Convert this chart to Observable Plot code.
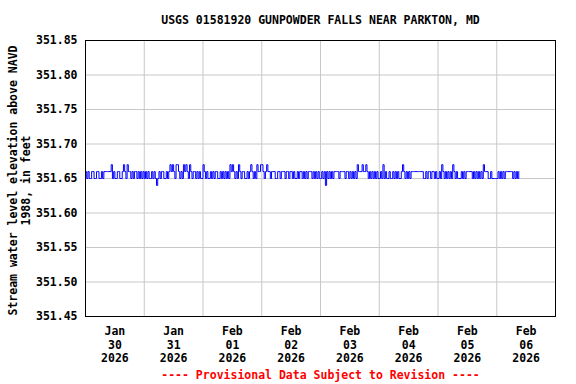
<!DOCTYPE html>
<html>
<head>
<meta charset="utf-8">
<script src="https://cdn.jsdelivr.net/npm/d3@7"></script>
<script src="https://cdn.jsdelivr.net/npm/@observablehq/plot@0.6"></script>
<style>
  html, body { margin: 0; padding: 0; background: #fff; }
</style>
</head>
<body>
<div id="chart"></div>
<script>
// ---- Data (30-minute readings, each digit d => 351.6d ft) ----
const dayStarts = ["2026-01-30", "2026-01-31", "2026-02-01", "2026-02-02", "2026-02-03", "2026-02-04", "2026-02-05", "2026-02-06"];
const dayReadings = [
  "6565566556655656" + "66666" + "7" + "565566556" + "7" + "65" + "7" + "6656566565656",
  "5656556565" + "4" + "5656655656" + "7" + "6" + "7" + "65" + "7" + "7" + "6565" + "7" + "6" + "7" + "65" + "7" + "6566565655",
  "7" + "656556565665565656565" + "7" + "6" + "7" + "6565" + "7" + "656655656" + "7" + "6565" + "7" + "66" + "7",
  "7" + "656" + "7" + "6656665566" + "5666566566" + "5655656656" + "5656665656" + "565",
  "5656" + "4" + "6565656" + "66656666566" + "5656565" + "7" + "666" + "7" + "66" + "7" + "6565656565",
  "565" + "7" + "565565565656556" + "7" + "6565656" + "666666666" + "556566566565",
  "565" + "7" + "65656565" + "7" + "6565556565" + "66666" + "565656565" + "7" + "6665565555",
  "5656565" + "666666" + "565656"
];

// ---- Axis ticks / labels ----
const yTicks = [351.45, 351.50, 351.55, 351.60, 351.65, 351.70, 351.75, 351.80, 351.85];
const xMonths = ["Jan", "Jan", "Feb", "Feb", "Feb", "Feb", "Feb", "Feb"];
const xDays = ["30", "31", "01", "02", "03", "04", "05", "06"];
const xYears = ["2026", "2026", "2026", "2026", "2026", "2026", "2026", "2026"];
const titleText = "USGS 01581920 GUNPOWDER FALLS NEAR PARKTON, MD";
const yLabel = "Stream water level elevation above NAVD\n1988, in feet";
const footer = "---- Provisional Data Subject to Revision ----";

// ---- Build table ----
const HALF_HOUR = 30 * 60 * 1000;
const data = [];
dayStarts.forEach((ds, di) => {
  const t0 = new Date(ds + "T00:00:00Z").getTime();
  const s = dayReadings[di];
  for (let k = 0; k < s.length; k++) {
    data.push({ t: new Date(t0 + k * HALF_HOUR), v: 351.6 + (+s[k]) / 100 });
  }
});

const domainStart = new Date("2026-01-30T00:00:00Z");
const domainEnd = new Date("2026-02-07T00:00:00Z");
const midnights = dayStarts.slice(1).map(d => new Date(d + "T00:00:00Z"));
const noons = dayStarts.map(d => new Date(d + "T12:00:00Z"));

const font = "DejaVu Sans Mono";

const chart = Plot.plot({
  width: 576,
  height: 384,
  marginLeft: 85,
  marginRight: 21,
  marginTop: 40,
  marginBottom: 68,
  style: { fontFamily: font, fontSize: "11.5px", fontWeight: "bold", background: "#fff", color: "#000" },
  x: { type: "utc", domain: [domainStart, domainEnd] },
  y: { domain: [351.45, 351.85] },
  marks: [
    Plot.gridX(midnights, { stroke: "#c8c8c8", strokeOpacity: 1 }),
    Plot.gridY(yTicks, { stroke: "#c8c8c8", strokeOpacity: 1 }),
    Plot.line(data, { x: "t", y: "v", curve: "step-after", stroke: "#0000ff", strokeWidth: 1 }),
    Plot.frame({ stroke: "#000", strokeWidth: 1 }),
    Plot.axisY(yTicks, {
      tickSize: 0, tickPadding: 8, label: null,
      tickFormat: d => d.toFixed(2), fontSize: 11.5, fontWeight: "bold"
    }),
    Plot.axisX(noons, {
      tickSize: 0, tickPadding: 9, label: null, lineHeight: 1.17,
      tickFormat: (d, i) => `${xMonths[i]}\n${xDays[i]}\n${xYears[i]}`,
      fontSize: 11.5, fontWeight: "bold"
    }),
    Plot.text([titleText], { frameAnchor: "top", dy: -20, lineAnchor: "middle", fontSize: 11.5, fontWeight: "bold", fill: "#000" }),
    Plot.text([footer], { frameAnchor: "bottom", dy: 59, lineAnchor: "middle", fontSize: 11.5, fontWeight: "bold", fill: "#ff0000" }),
    Plot.text([yLabel], { frameAnchor: "left", textAnchor: "middle", dx: -66, dy: 2, rotate: -90, lineAnchor: "middle", lineHeight: 1.1, fontSize: 11.5, fontWeight: "bold", fill: "#000" })
  ]
});
document.getElementById("chart").appendChild(chart);
</script>
</body>
</html>
